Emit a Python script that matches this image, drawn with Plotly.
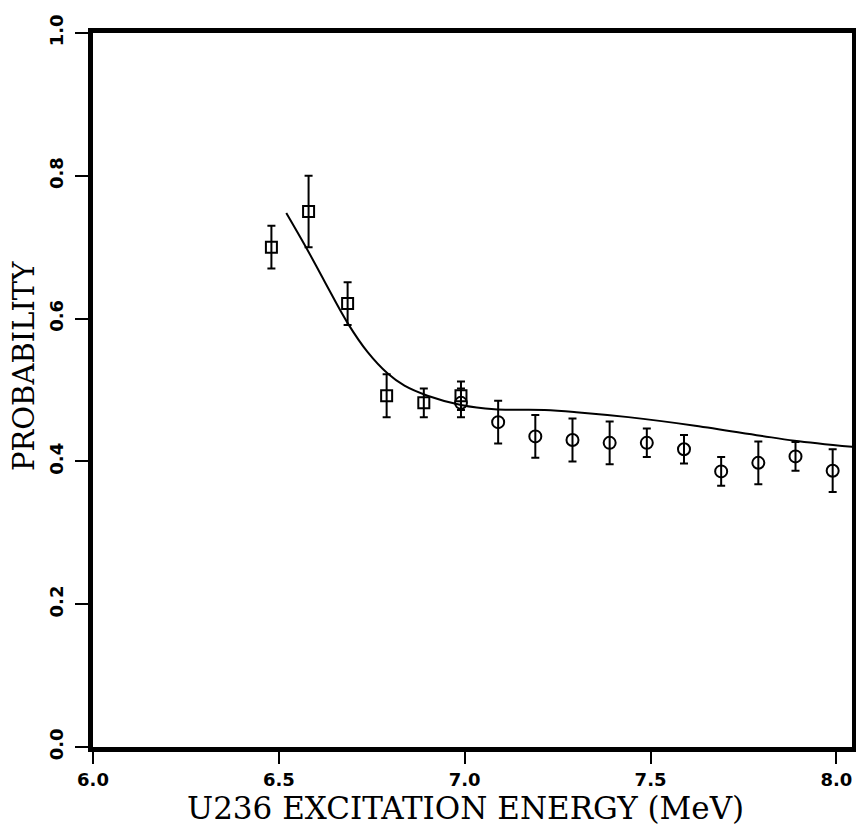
import plotly.graph_objects as go

# Square data points
sq_x = [6.48, 6.58, 6.685, 6.79, 6.89, 6.99]
sq_y = [0.700, 0.750, 0.621, 0.492, 0.482, 0.492]
sq_err = [0.030, 0.050, 0.030, 0.030, 0.020, 0.020]

# Circle data points
ci_x = [6.99, 7.09, 7.19, 7.29, 7.39, 7.49, 7.59, 7.69, 7.79, 7.89, 7.99]
ci_y = [0.482, 0.455, 0.435, 0.430, 0.426, 0.426, 0.417, 0.386, 0.398, 0.407, 0.387]
ci_err = [0.020, 0.030, 0.030, 0.030, 0.030, 0.020, 0.020, 0.020, 0.030, 0.020, 0.030]

# Theory curve
cv_x = [6.52, 6.573, 6.623, 6.686, 6.739, 6.793, 6.838, 6.90, 6.99, 7.08, 7.215, 7.30, 7.44, 7.62, 7.796, 7.887, 8.05]
cv_y = [0.748, 0.700, 0.652, 0.593, 0.553, 0.523, 0.506, 0.492, 0.479, 0.473, 0.472, 0.469, 0.462, 0.450, 0.436, 0.429, 0.420]

x_ticks = [6.0, 6.5, 7.0, 7.5, 8.0]
x_ticklabels = ["6.0", "6.5", "7.0", "7.5", "8.0"]
y_ticks = [0.0, 0.2, 0.4, 0.6, 0.8, 1.0]
y_ticklabels = ["0.0", "0.2", "0.4", "0.6", "0.8", "1.0"]

x_title = "U236 EXCITATION ENERGY (MeV)"
y_title = "PROBABILITY"

fig = go.Figure()

fig.add_trace(go.Scatter(
    x=cv_x, y=cv_y, mode="lines",
    line=dict(color="black", width=2, shape="spline", smoothing=1.0),
    showlegend=False, hoverinfo="skip"))

fig.add_trace(go.Scatter(
    x=sq_x, y=sq_y, mode="markers",
    marker=dict(symbol="square-open", size=11, color="black", line=dict(width=2)),
    error_y=dict(type="data", array=sq_err, visible=True, color="black", thickness=2, width=4),
    showlegend=False))

fig.add_trace(go.Scatter(
    x=ci_x, y=ci_y, mode="markers",
    marker=dict(symbol="circle-open", size=12, color="black", line=dict(width=2)),
    error_y=dict(type="data", array=ci_err, visible=True, color="black", thickness=2, width=4),
    showlegend=False))

L, R, T, B = 85, 19.5, 25, 87
W, H = 864, 826
pw, ph = W - L - R, H - T - B

fig.update_layout(
    width=W, height=H,
    margin=dict(l=L, r=R, t=T, b=B),
    paper_bgcolor="white", plot_bgcolor="white",
    font=dict(family="DejaVu Serif", color="black"),
    annotations=[
        dict(text=y_title, textangle=-90, showarrow=False,
             xref="paper", yref="paper", x=0, xshift=16 - L,
             y=(H - B - 358) / ph, xanchor="center", yanchor="middle",
             font=dict(family="DejaVu Serif", size=29, color="black")),
        dict(text=x_title, showarrow=False,
             xref="paper", yref="paper", x=(458 - L) / pw,
             y=0, yshift=(H - B) - 800, xanchor="center", yanchor="middle",
             font=dict(family="DejaVu Serif", size=31, color="black")),
    ],
)

fig.update_xaxes(
    range=[6.0, 8.042], tickvals=x_ticks, ticktext=x_ticklabels,
    showgrid=False, zeroline=False, automargin=False,
    showline=True, linecolor="black", linewidth=5, mirror=True,
    ticks="outside", ticklen=12, tickwidth=2, tickcolor="black",
    tickfont=dict(family="DejaVu Sans", size=18, color="black", weight="bold"),
)

fig.update_yaxes(
    range=[0.0, 1.0], tickvals=y_ticks, ticktext=y_ticklabels,
    showgrid=False, zeroline=False, automargin=False,
    showline=True, linecolor="black", linewidth=5, mirror=True,
    ticks="outside", ticklen=13, tickwidth=2, tickcolor="black",
    tickangle=-90, ticklabelstandoff=5,
    tickfont=dict(family="DejaVu Sans", size=18, color="black", weight="bold"),
)

fig.write_html("out.html")
